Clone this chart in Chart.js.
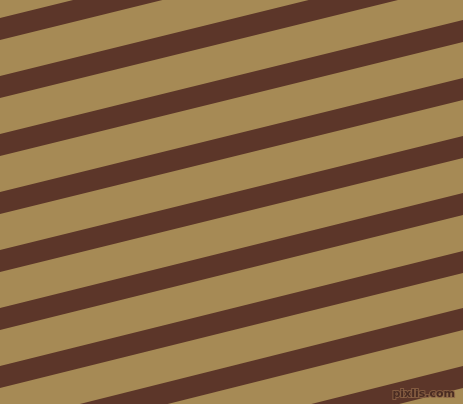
<!DOCTYPE html>
<html lang="en">
<head>
    <meta charset="UTF-8">
    <title>Diagonal Stripes</title>
    <script src="https://cdn.jsdelivr.net/npm/chart.js"></script>
    <style>
        html, body {
            margin: 0;
            padding: 0;
            background: #a68a55;
        }
        canvas {
            display: block;
        }
    </style>
</head>
<body>
    <canvas id="stripes" width="463" height="404"></canvas>

    <script>
        // stripe edges: y where each band meets the left (x=0) and right (x=463) edge
        const edgeX = [0, 463];
        const topAtLeft = [18, 76, 134, 192, 250, 308, 366, 424, 482];
        const topAtRight = [-96, -38, 20, 78, 136, 193, 251, 308, 366];
        const bottomAtLeft = [40, 98, 156, 214, 272, 330, 388, 446, 504];
        const bottomAtRight = [-74, -16, 42, 100, 158, 215, 273, 330, 388];
        const watermark = 'pixlis.com';

        const bandColor = '#5c3629';
        const groundColor = '#a68a55';

        const datasets = [];
        for (let i = 0; i < topAtLeft.length; i++) {
            datasets.push({
                data: [{x: edgeX[0], y: topAtLeft[i]}, {x: edgeX[1], y: topAtRight[i]}],
                borderWidth: 0,
                pointRadius: 0,
                fill: false
            });
            datasets.push({
                data: [{x: edgeX[0], y: bottomAtLeft[i]}, {x: edgeX[1], y: bottomAtRight[i]}],
                borderWidth: 0,
                pointRadius: 0,
                backgroundColor: bandColor,
                fill: '-1'
            });
        }

        const groundPlugin = {
            id: 'ground',
            beforeDraw(chart) {
                const {ctx, width, height} = chart;
                ctx.save();
                ctx.fillStyle = groundColor;
                ctx.fillRect(0, 0, width, height);
                ctx.restore();
            },
            afterDraw(chart) {
                const {ctx, chartArea} = chart;
                ctx.save();
                ctx.font = 'bold 11px "DejaVu Sans"';
                ctx.textAlign = 'right';
                ctx.textBaseline = 'alphabetic';
                ctx.lineWidth = 2;
                ctx.strokeStyle = 'rgba(140, 100, 70, 0.8)';
                ctx.strokeText(watermark, chartArea.right - 8, chartArea.bottom - 7);
                ctx.fillStyle = '#4a2c22';
                ctx.fillText(watermark, chartArea.right - 8, chartArea.bottom - 7);
                ctx.restore();
            }
        };

        new Chart(document.getElementById('stripes'), {
            type: 'line',
            data: {datasets: datasets},
            options: {
                responsive: false,
                animation: false,
                layout: {padding: 0},
                plugins: {
                    legend: {display: false},
                    tooltip: {enabled: false}
                },
                scales: {
                    x: {type: 'linear', min: 0, max: 463, display: false},
                    y: {type: 'linear', min: 0, max: 404, reverse: true, display: false}
                }
            },
            plugins: [groundPlugin]
        });
    </script>
</body>
</html>
